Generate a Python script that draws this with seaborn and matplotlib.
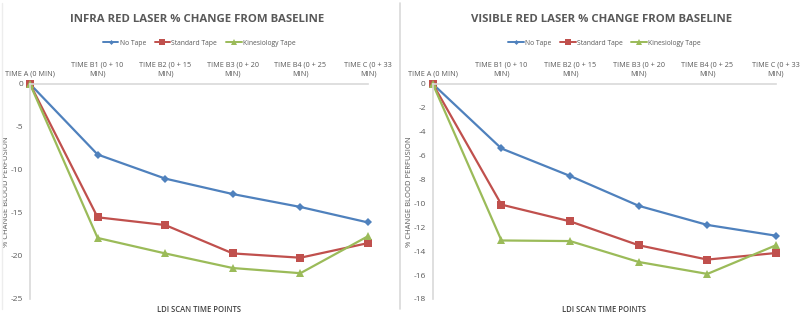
import numpy as np
import pandas as pd
import seaborn as sns
import matplotlib.pyplot as plt
from matplotlib.lines import Line2D

#%% Data
time_labels = ['TIME A (0 MIN)', 'TIME B1 (0 + 10\nMIN)', 'TIME B2 (0 + 15\nMIN)',
               'TIME B3 (0 + 20\nMIN)', 'TIME B4 (0 + 25\nMIN)', 'TIME C (0 + 33\nMIN)']
groups = ['No Tape', 'Standard Tape', 'Kinesiology Tape']

ir_no_tape   = [0, -8.2, -11.0, -12.8, -14.3, -16.1]
ir_standard  = [0, -15.5, -16.4, -19.7, -20.2, -18.5]
ir_kinesio   = [0, -17.9, -19.7, -21.4, -22.0, -17.7]

vis_no_tape  = [0, -5.4, -7.7, -10.2, -11.8, -12.7]
vis_standard = [0, -10.1, -11.5, -13.5, -14.7, -14.15]
vis_kinesio  = [0, -13.1, -13.15, -14.9, -15.9, -13.5]

def to_long(series):
    rows = []
    for g, vals in zip(groups, series):
        for i, v in enumerate(vals):
            rows.append({'time': i, 'group': g, 'change': v})
    return pd.DataFrame(rows)

df_ir  = to_long([ir_no_tape, ir_standard, ir_kinesio])
df_vis = to_long([vis_no_tape, vis_standard, vis_kinesio])

#%% Styling
sns.set_style('white')
plt.rcParams['font.family'] = ['Open Sans', 'DejaVu Sans']
palette = {'No Tape': '#4F81BD', 'Standard Tape': '#C0504D', 'Kinesiology Tape': '#9BBB59'}
markers = {'No Tape': 'D', 'Standard Tape': 's', 'Kinesiology Tape': '^'}
msizes  = {'No Tape': 4, 'Standard Tape': 6, 'Kinesiology Tape': 5.5}
txtcol  = '#595959'
axcol   = '#D9D9D9'

fig = plt.figure(figsize=(8, 3.19), dpi=100)
ax1 = fig.add_axes([0.0375, 0.0627, 0.4225, 0.674])
ax2 = fig.add_axes([0.541, 0.0627, 0.429, 0.674])

panels = [(ax1, df_ir, 'INFRA RED LASER % CHANGE FROM BASELINE', -25, 5, 0.247),
          (ax2, df_vis, 'VISIBLE RED LASER % CHANGE FROM BASELINE', -18, 2, 0.752)]

for ax, df, title, ymin, ystep, tx in panels:
    sns.lineplot(data=df, x='time', y='change', hue='group', style='group',
                 palette=palette, markers=markers, dashes=False, sort=False,
                 linewidth=1.6, markeredgewidth=0, ax=ax, legend=False)
    for line, g in zip(ax.get_lines(), groups):
        line.set_clip_on(False)
        line.set_markersize(msizes[g])
    ax.set_xlim(0, 5)
    ax.set_ylim(ymin, 0)
    ax.set_yticks(np.arange(0, ymin - 0.1, -ystep))
    ax.set_yticklabels([str(int(v)) for v in np.arange(0, ymin - 0.1, -ystep)])
    ax.xaxis.tick_top()
    ax.set_xticks(range(6))
    ax.set_xticklabels(time_labels, fontsize=5.2, color=txtcol, linespacing=1.4)
    ax.tick_params(axis='both', length=0, pad=3)
    ax.tick_params(axis='y', labelsize=6, colors=txtcol, pad=5)
    ax.tick_params(axis='x', pad=5)
    for s in ['right', 'bottom']:
        ax.spines[s].set_visible(False)
    for s in ['top', 'left']:
        ax.spines[s].set_color(axcol)
        ax.spines[s].set_linewidth(1.2)
    ax.set_xlabel('LDI SCAN TIME POINTS', fontsize=5.5, color='#404040', fontweight='semibold')
    ax.xaxis.set_label_position('bottom')
    ax.xaxis.set_label_coords(0.5, -0.03, transform=ax.transAxes)
    ax.set_ylabel('% CHANGE BLOOD PERFUSION', fontsize=5.5, color=txtcol)
    ax.yaxis.set_label_coords(-0.058, 0.5)
    fig.text(tx, 0.94, title, fontsize=8.2, color=txtcol, fontweight='bold',
             ha='center', va='center')

    handles = [Line2D([0], [0], color=palette[g], marker=markers[g], markersize=msizes[g] - 1.5,
                      markeredgewidth=0, linewidth=1.4) for g in groups]
    ax.legend(handles, groups, loc='center', bbox_to_anchor=(0.5, 1.19), ncol=3,
              frameon=False, fontsize=4.9, handlelength=2.3, handletextpad=0.15,
              columnspacing=1.3, labelcolor=txtcol)

# separators between the two chart boxes
fig.add_artist(Line2D([0.5, 0.5], [0.03, 0.99], color=axcol, linewidth=1.2))
fig.add_artist(Line2D([0.002, 0.002], [0.03, 0.99], color='#EDEDED', linewidth=1.0))

fig.savefig('out.png', dpi=100)
